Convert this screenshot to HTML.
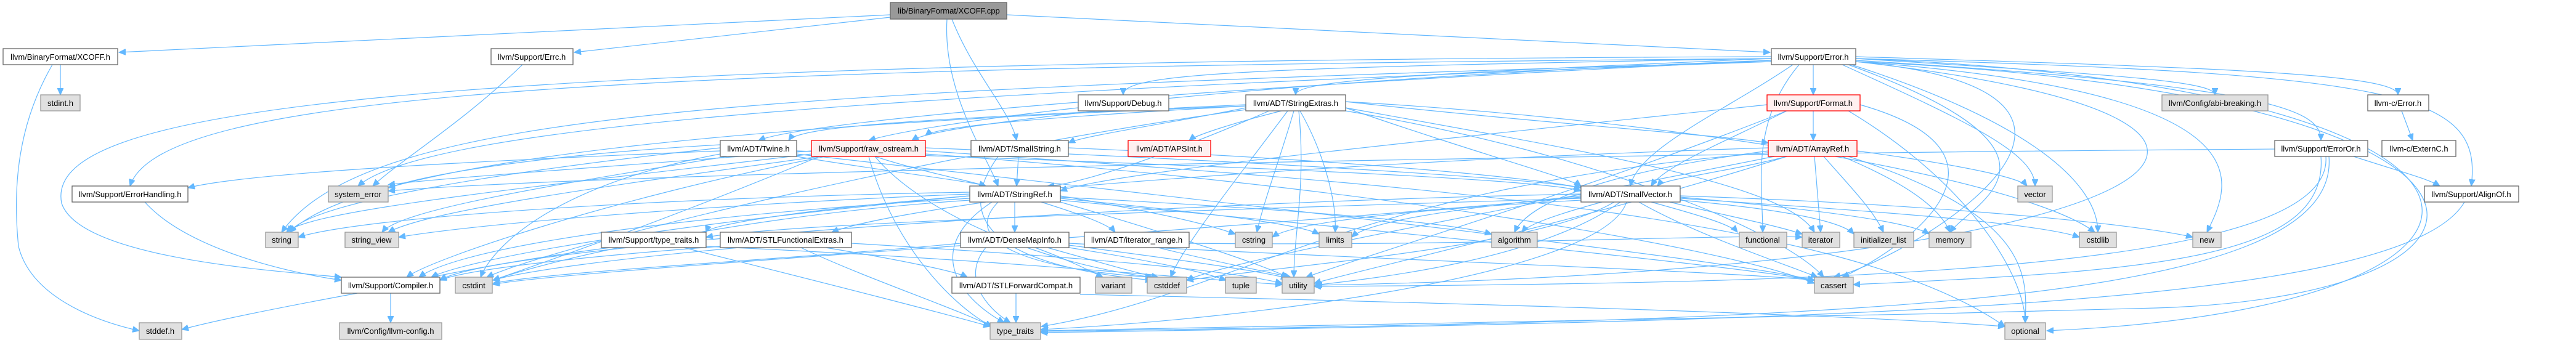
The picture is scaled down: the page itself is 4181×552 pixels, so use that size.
<!DOCTYPE html>
<html><head><meta charset="utf-8"><style>
html,body{margin:0;padding:0;background:#fff;}
svg{display:block;}
text{font-family:"Liberation Sans",sans-serif;font-size:13px;fill:#000;}
.e path{fill:none;stroke:#63b8ff;stroke-width:1.2;}
</style></head><body>
<svg width="4181" height="552" viewBox="0 0 4181 552" xmlns="http://www.w3.org/2000/svg">
<defs><marker id="a" markerWidth="12" markerHeight="10" refX="11" refY="5" orient="auto" markerUnits="userSpaceOnUse"><path d="M0,0 L11,5 L0,10 z" fill="#63b8ff" stroke="#63b8ff"/></marker></defs>
<g class="e" marker-end="url(#a)">
<path marker-end="url(#a)" d="M1445,24 L193,85"/>
<path marker-end="url(#a)" d="M1445,28 L932,85"/>
<path marker-end="url(#a)" d="M1634,24 L2873,85"/>
<path marker-end="url(#a)" d="M1545,31 C1580,120 1640,180 1650,228"/>
<path marker-end="url(#a)" d="M1537,31 C1530,150 1600,250 1620,302"/>
<path marker-end="url(#a)" d="M2875,95 C2000,110 1823,120 1823,154"/>
<path marker-end="url(#a)" d="M2875,95 C2300,120 2103,130 2103,154"/>
<path marker-end="url(#a)" d="M2943,105 L2943,154"/>
<path marker-end="url(#a)" d="M3012,95 C3400,120 3595,130 3595,154"/>
<path marker-end="url(#a)" d="M3012,92 C3600,110 3892,120 3892,154"/>
<path marker-end="url(#a)" d="M3012,98 C3700,140 3767,180 3767,228"/>
<path marker-end="url(#a)" d="M3012,95 C3900,120 4030,150 4011,302"/>
<path marker-end="url(#a)" d="M2910,105 C2800,180 2660,240 2646,302"/>
<path marker-end="url(#a)" d="M2875,95 C1000,110 260,150 211,302"/>
<path marker-end="url(#a)" d="M2875,92 C600,100 70,180 100,330 C130,420 450,440 554,450"/>
<path marker-end="url(#a)" d="M2875,98 C2000,130 1500,200 1410,228"/>
<path marker-end="url(#a)" d="M2875,98 C1800,150 1300,200 1231,228"/>
<path marker-end="url(#a)" d="M2875,100 C1200,150 600,180 457,377"/>
<path marker-end="url(#a)" d="M2875,100 C1500,150 700,200 581,302"/>
<path marker-end="url(#a)" d="M2920,105 C2840,200 2861,300 2861,377"/>
<path marker-end="url(#a)" d="M2990,105 C3200,200 3303,250 3303,302"/>
<path marker-end="url(#a)" d="M3000,105 C3400,250 3200,330 3165,377"/>
<path marker-end="url(#a)" d="M3005,105 C3300,200 3405,300 3405,377"/>
<path marker-end="url(#a)" d="M3012,100 C3700,150 3620,300 3582,377"/>
<path marker-end="url(#a)" d="M3012,100 C3550,150 3100,420 2976,450"/>
<path marker-end="url(#a)" d="M3012,100 C4150,150 4150,480 3500,500 C2800,520 2000,530 1690,537"/>
<path marker-end="url(#a)" d="M3012,95 C4180,140 4180,500 3322,537"/>
<path marker-end="url(#a)" d="M3012,100 C3900,200 3500,440 2135,463"/>
<path marker-end="url(#a)" d="M2943,180 L2943,228"/>
<path marker-end="url(#a)" d="M2868,170 C2300,230 1800,280 1721,310"/>
<path marker-end="url(#a)" d="M2900,180 C2800,230 2700,270 2680,302"/>
<path marker-end="url(#a)" d="M3019,170 C3300,250 3100,400 2990,450"/>
<path marker-end="url(#a)" d="M2900,180 C2600,300 2200,420 2120,450"/>
<path marker-end="url(#a)" d="M3000,180 C3200,300 3287,450 3287,524"/>
<path marker-end="url(#a)" d="M2900,254 C2800,280 2700,290 2690,302"/>
<path marker-end="url(#a)" d="M2945,254 L2955,377"/>
<path marker-end="url(#a)" d="M2960,254 C3000,300 3040,340 3057,377"/>
<path marker-end="url(#a)" d="M2990,254 C3100,300 3150,340 3165,377"/>
<path marker-end="url(#a)" d="M2870,245 C2600,280 2480,330 2458,377"/>
<path marker-end="url(#a)" d="M2870,248 C2200,300 2000,480 1690,530"/>
<path marker-end="url(#a)" d="M3000,254 C3300,350 3290,450 3287,524"/>
<path marker-end="url(#a)" d="M2870,240 C1600,280 800,400 700,450"/>
<path marker-end="url(#a)" d="M2880,254 C2500,330 2000,420 1926,455"/>
<path marker-end="url(#a)" d="M3014,245 C3200,270 3280,290 3290,302"/>
<path marker-end="url(#a)" d="M2900,254 C2600,350 2200,440 2133,460"/>
<path marker-end="url(#a)" d="M2184,165 C2500,200 2800,220 2870,232"/>
<path marker-end="url(#a)" d="M2022,175 C1900,200 1760,220 1734,232"/>
<path marker-end="url(#a)" d="M2060,180 C1900,250 1750,300 1700,302"/>
<path marker-end="url(#a)" d="M2022,170 C1600,190 1300,200 1280,228"/>
<path marker-end="url(#a)" d="M2080,180 C2000,200 1940,220 1930,228"/>
<path marker-end="url(#a)" d="M2022,172 C1700,190 1520,205 1502,220"/>
<path marker-end="url(#a)" d="M2100,180 C2080,250 2050,330 2040,377"/>
<path marker-end="url(#a)" d="M2110,180 C2150,250 2170,330 2167,377"/>
<path marker-end="url(#a)" d="M2108,180 C2120,300 2100,380 2100,450"/>
<path marker-end="url(#a)" d="M2184,175 C2600,250 2900,300 2945,377"/>
<path marker-end="url(#a)" d="M2022,178 C1500,250 900,400 790,450"/>
<path marker-end="url(#a)" d="M2090,180 C2000,300 1920,400 1900,450"/>
<path marker-end="url(#a)" d="M2022,172 C1300,200 600,250 470,377"/>
<path marker-end="url(#a)" d="M2184,180 C2600,250 2900,380 2960,450"/>
<path marker-end="url(#a)" d="M2184,165 C2800,200 3300,300 3400,377"/>
<path marker-end="url(#a)" d="M2184,175 C2400,250 2550,290 2566,302"/>
<path marker-end="url(#a)" d="M1293,245 C2000,270 2500,290 2566,310"/>
<path marker-end="url(#a)" d="M1293,254 C1450,280 1580,295 1600,302"/>
<path marker-end="url(#a)" d="M1169,245 C800,260 400,280 305,305"/>
<path marker-end="url(#a)" d="M1293,250 C2000,330 2800,420 2945,455"/>
<path marker-end="url(#a)" d="M1169,250 C900,300 800,400 780,450"/>
<path marker-end="url(#a)" d="M1169,240 C800,280 500,330 470,377"/>
<path marker-end="url(#a)" d="M1180,254 C900,300 650,340 620,377"/>
<path marker-end="url(#a)" d="M1169,235 C900,250 700,280 630,305"/>
<path marker-end="url(#a)" d="M1420,254 C1500,280 1580,295 1600,302"/>
<path marker-end="url(#a)" d="M1502,240 C2000,260 2500,290 2566,305"/>
<path marker-end="url(#a)" d="M1340,254 C1000,320 700,420 660,450"/>
<path marker-end="url(#a)" d="M1317,245 C1000,270 700,290 630,300"/>
<path marker-end="url(#a)" d="M1317,250 C900,300 500,340 465,377"/>
<path marker-end="url(#a)" d="M1330,254 C1000,300 700,340 630,377"/>
<path marker-end="url(#a)" d="M1502,250 C2200,300 2800,400 2945,460"/>
<path marker-end="url(#a)" d="M1420,254 C1500,350 1700,430 1870,450"/>
<path marker-end="url(#a)" d="M1330,254 C1100,350 900,420 800,455"/>
<path marker-end="url(#a)" d="M1410,254 C1450,400 1550,500 1610,530"/>
<path marker-end="url(#a)" d="M1502,245 C2300,300 3000,350 3254,530"/>
<path marker-end="url(#a)" d="M1734,240 C2200,260 2500,290 2566,305"/>
<path marker-end="url(#a)" d="M1653,254 L1650,302"/>
<path marker-end="url(#a)" d="M1620,254 C1550,350 1600,430 1870,455"/>
<path marker-end="url(#a)" d="M1647,328 L1647,377"/>
<path marker-end="url(#a)" d="M1690,328 C1760,350 1800,365 1810,377"/>
<path marker-end="url(#a)" d="M1600,328 C1450,350 1380,365 1350,377"/>
<path marker-end="url(#a)" d="M1574,318 C1300,340 1150,365 1146,377"/>
<path marker-end="url(#a)" d="M1574,322 C1100,350 750,400 680,450"/>
<path marker-end="url(#a)" d="M1721,320 C2100,340 2350,360 2421,380"/>
<path marker-end="url(#a)" d="M1721,325 C2300,380 2800,430 2945,455"/>
<path marker-end="url(#a)" d="M1620,328 C1550,400 1700,440 1870,450"/>
<path marker-end="url(#a)" d="M1721,318 C1850,340 1950,360 2005,380"/>
<path marker-end="url(#a)" d="M1721,322 C1900,340 2100,360 2141,380"/>
<path marker-end="url(#a)" d="M1574,312 C1100,320 600,350 484,385"/>
<path marker-end="url(#a)" d="M1574,315 C1200,330 800,360 647,385"/>
<path marker-end="url(#a)" d="M1610,328 C1500,400 1550,480 1630,524"/>
<path marker-end="url(#a)" d="M1721,328 C1900,380 2050,430 2090,450"/>
<path marker-end="url(#a)" d="M1574,325 C1200,350 900,420 800,455"/>
<path marker-end="url(#a)" d="M1735,395 C2200,420 2800,440 2945,455"/>
<path marker-end="url(#a)" d="M1700,402 C1800,430 1850,445 1880,450"/>
<path marker-end="url(#a)" d="M1559,395 C1300,420 900,440 800,460"/>
<path marker-end="url(#a)" d="M1735,402 C1850,420 1950,440 1990,455"/>
<path marker-end="url(#a)" d="M1600,402 C1560,450 1600,500 1640,524"/>
<path marker-end="url(#a)" d="M1735,398 C1900,420 2050,440 2090,452"/>
<path marker-end="url(#a)" d="M1680,402 C1730,420 1770,440 1790,450"/>
<path marker-end="url(#a)" d="M1169,400 C900,420 750,440 714,455"/>
<path marker-end="url(#a)" d="M1340,402 C1450,420 1550,440 1570,450"/>
<path marker-end="url(#a)" d="M1200,402 C1000,420 850,440 800,455"/>
<path marker-end="url(#a)" d="M1300,402 C1400,450 1550,500 1610,530"/>
<path marker-end="url(#a)" d="M1382,395 C1800,420 2000,440 2081,460"/>
<path marker-end="url(#a)" d="M990,402 C850,420 750,440 700,450"/>
<path marker-end="url(#a)" d="M1110,402 C1300,450 1500,500 1607,530"/>
<path marker-end="url(#a)" d="M1146,400 C1600,420 1900,450 2081,462"/>
<path marker-end="url(#a)" d="M1880,402 C1950,420 2050,440 2095,450"/>
<path marker-end="url(#a)" d="M1930,395 C2400,400 2800,380 2925,385"/>
<path marker-end="url(#a)" d="M1649,476 L1649,524"/>
<path marker-end="url(#a)" d="M1753,478 C2300,490 3000,510 3254,530"/>
<path marker-end="url(#a)" d="M2566,315 C1800,330 800,400 714,455"/>
<path marker-end="url(#a)" d="M2600,328 C2520,350 2480,365 2470,377"/>
<path marker-end="url(#a)" d="M2660,328 C2750,380 2900,430 2950,450"/>
<path marker-end="url(#a)" d="M2620,328 C2500,400 2100,430 1926,455"/>
<path marker-end="url(#a)" d="M2566,320 C1900,380 900,440 800,462"/>
<path marker-end="url(#a)" d="M2727,322 C3000,340 3300,360 3375,385"/>
<path marker-end="url(#a)" d="M2566,325 C2300,340 2100,360 2065,385"/>
<path marker-end="url(#a)" d="M2680,328 C2760,350 2810,365 2820,377"/>
<path marker-end="url(#a)" d="M2727,325 C2900,340 2990,360 3009,380"/>
<path marker-end="url(#a)" d="M2710,328 C2800,350 2880,365 2925,380"/>
<path marker-end="url(#a)" d="M2566,318 C2350,340 2220,360 2194,385"/>
<path marker-end="url(#a)" d="M2727,320 C2950,340 3100,360 3131,380"/>
<path marker-end="url(#a)" d="M2727,318 C3100,330 3450,360 3559,385"/>
<path marker-end="url(#a)" d="M2640,328 C2600,450 2000,520 1689,535"/>
<path marker-end="url(#a)" d="M2630,328 C2500,420 2250,450 2133,463"/>
<path marker-end="url(#a)" d="M2566,322 C2000,340 1300,360 1146,385"/>
<path marker-end="url(#a)" d="M3820,254 C3900,280 3940,290 3960,302"/>
<path marker-end="url(#a)" d="M3767,254 C3780,420 3500,440 3008,462"/>
<path marker-end="url(#a)" d="M3692,242 C2500,250 1000,280 630,310"/>
<path marker-end="url(#a)" d="M3780,254 C3800,500 3000,520 1689,538"/>
<path marker-end="url(#a)" d="M3775,254 C3790,440 3000,460 2133,465"/>
<path marker-end="url(#a)" d="M4000,328 C3900,500 3000,520 1689,540"/>
<path marker-end="url(#a)" d="M3898,180 L3916,228"/>
<path marker-end="url(#a)" d="M235,328 C300,400 450,440 554,455"/>
<path marker-end="url(#a)" d="M580,476 C450,500 350,520 295,535"/>
<path marker-end="url(#a)" d="M634,476 L634,524"/>
<path marker-end="url(#a)" d="M98,105 L98,154"/>
<path marker-end="url(#a)" d="M85,105 C30,200 20,300 30,400 C50,480 150,520 226,537"/>
<path marker-end="url(#a)" d="M848,105 C750,200 650,260 605,302"/>
<path marker-end="url(#a)" d="M1780,180 C1600,200 1500,215 1480,228"/>
</g>
<g stroke-width="1.3">
<!-- normal nodes -->
<g fill="#fff" stroke="#666">
<rect x="5" y="79" width="186" height="26"/>
<rect x="797" y="79" width="133" height="26"/>
<rect x="2875" y="79" width="137" height="26"/>
<rect x="1750" y="154" width="147" height="26"/>
<rect x="2022" y="154" width="162" height="26"/>
<rect x="3843" y="154" width="99" height="26"/>
<rect x="1169" y="228" width="124" height="26"/>
<rect x="1576" y="228" width="158" height="26"/>
<rect x="3692" y="228" width="151" height="26"/>
<rect x="3866" y="228" width="120" height="26"/>
<rect x="117" y="302" width="188" height="26"/>
<rect x="1574" y="302" width="147" height="26"/>
<rect x="2566" y="302" width="161" height="26"/>
<rect x="3935" y="302" width="153" height="26"/>
<rect x="976" y="377" width="170" height="25"/>
<rect x="1169" y="377" width="213" height="25"/>
<rect x="1559" y="377" width="176" height="25"/>
<rect x="1760" y="377" width="170" height="25"/>
<rect x="554" y="450" width="160" height="26"/>
<rect x="1545" y="450" width="208" height="26"/>
</g>
<g fill="#fff0f0" stroke="#ff0000">
<rect x="2868" y="154" width="151" height="26"/>
<rect x="1317" y="228" width="185" height="26"/>
<rect x="1831" y="228" width="134" height="26"/>
<rect x="2870" y="228" width="144" height="26"/>
</g>
<g fill="#e0e0e0" stroke="#999">
<rect x="66" y="154" width="64" height="26"/>
<rect x="3509" y="154" width="172" height="26"/>
<rect x="533" y="302" width="97" height="26"/>
<rect x="3275" y="302" width="56" height="26"/>
<rect x="431" y="377" width="53" height="25"/>
<rect x="560" y="377" width="87" height="25"/>
<rect x="2005" y="377" width="60" height="25"/>
<rect x="2141" y="377" width="53" height="25"/>
<rect x="2421" y="377" width="74" height="25"/>
<rect x="2823" y="377" width="77" height="25"/>
<rect x="2925" y="377" width="61" height="25"/>
<rect x="3009" y="377" width="97" height="25"/>
<rect x="3131" y="377" width="68" height="25"/>
<rect x="3375" y="377" width="60" height="25"/>
<rect x="3559" y="377" width="46" height="25"/>
<rect x="739" y="450" width="60" height="26"/>
<rect x="1778" y="450" width="59" height="26"/>
<rect x="1862" y="450" width="64" height="26"/>
<rect x="1989" y="450" width="50" height="26"/>
<rect x="2081" y="450" width="52" height="26"/>
<rect x="2945" y="450" width="63" height="26"/>
<rect x="226" y="524" width="69" height="27"/>
<rect x="551" y="524" width="166" height="27"/>
<rect x="1607" y="524" width="82" height="27"/>
<rect x="3254" y="524" width="66" height="27"/>
</g>
<rect x="1445" y="4" width="189" height="27" fill="#999" stroke="#666"/>
</g>
<g text-anchor="middle">
<text x="1540" y="22">lib/BinaryFormat/XCOFF.cpp</text>
<text x="98" y="97">llvm/BinaryFormat/XCOFF.h</text>
<text x="863" y="97">llvm/Support/Errc.h</text>
<text x="2943" y="97">llvm/Support/Error.h</text>
<text x="98" y="172">stdint.h</text>
<text x="1823" y="172">llvm/Support/Debug.h</text>
<text x="2103" y="172">llvm/ADT/StringExtras.h</text>
<text x="2943" y="172">llvm/Support/Format.h</text>
<text x="3595" y="172">llvm/Config/abi-breaking.h</text>
<text x="3892" y="172">llvm-c/Error.h</text>
<text x="1231" y="246">llvm/ADT/Twine.h</text>
<text x="1410" y="246">llvm/Support/raw_ostream.h</text>
<text x="1655" y="246">llvm/ADT/SmallString.h</text>
<text x="1898" y="246">llvm/ADT/APSInt.h</text>
<text x="2942" y="246">llvm/ADT/ArrayRef.h</text>
<text x="3767" y="246">llvm/Support/ErrorOr.h</text>
<text x="3926" y="246">llvm-c/ExternC.h</text>
<text x="211" y="320">llvm/Support/ErrorHandling.h</text>
<text x="581" y="320">system_error</text>
<text x="1647" y="320">llvm/ADT/StringRef.h</text>
<text x="2646" y="320">llvm/ADT/SmallVector.h</text>
<text x="3303" y="320">vector</text>
<text x="4011" y="320">llvm/Support/AlignOf.h</text>
<text x="457" y="394">string</text>
<text x="603" y="394">string_view</text>
<text x="1061" y="394">llvm/Support/type_traits.h</text>
<text x="1275" y="394">llvm/ADT/STLFunctionalExtras.h</text>
<text x="1647" y="394">llvm/ADT/DenseMapInfo.h</text>
<text x="1845" y="394">llvm/ADT/iterator_range.h</text>
<text x="2035" y="394">cstring</text>
<text x="2167" y="394">limits</text>
<text x="2458" y="394">algorithm</text>
<text x="2861" y="394">functional</text>
<text x="2955" y="394">iterator</text>
<text x="3057" y="394">initializer_list</text>
<text x="3165" y="394">memory</text>
<text x="3405" y="394">cstdlib</text>
<text x="3582" y="394">new</text>
<text x="634" y="468">llvm/Support/Compiler.h</text>
<text x="769" y="468">cstdint</text>
<text x="1649" y="468">llvm/ADT/STLForwardCompat.h</text>
<text x="1807" y="468">variant</text>
<text x="1894" y="468">cstddef</text>
<text x="2014" y="468">tuple</text>
<text x="2107" y="468">utility</text>
<text x="2976" y="468">cassert</text>
<text x="260" y="542">stddef.h</text>
<text x="634" y="542">llvm/Config/llvm-config.h</text>
<text x="1648" y="542">type_traits</text>
<text x="3287" y="542">optional</text>
</g>
</svg>
</body></html>
